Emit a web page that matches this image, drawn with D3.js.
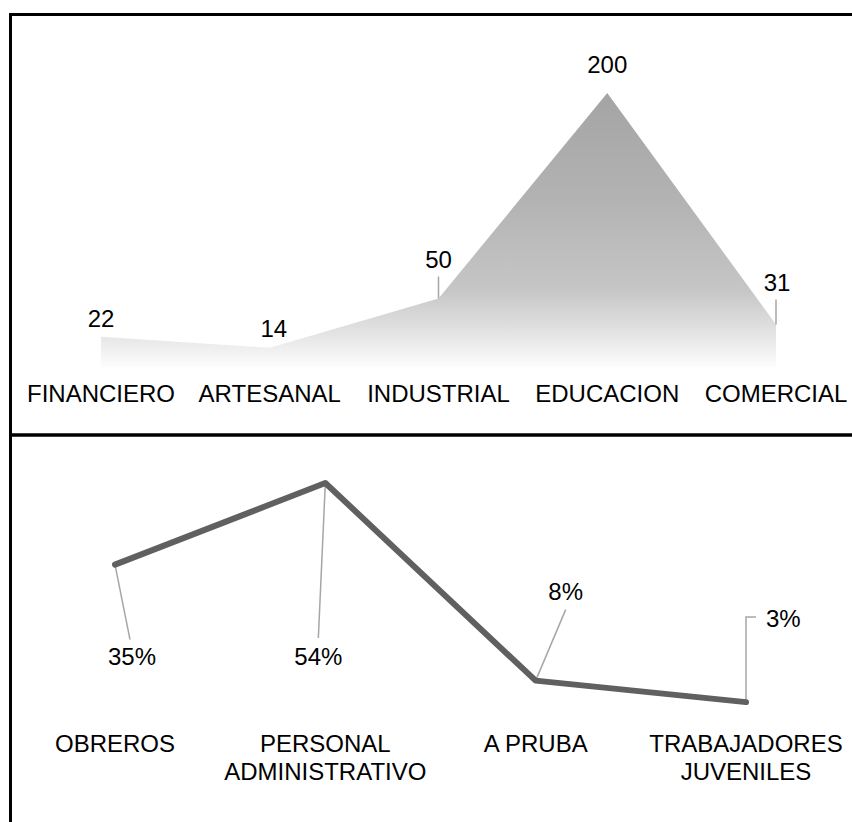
<!DOCTYPE html>
<html>
<head>
<meta charset="utf-8">
<script src="https://cdn.jsdelivr.net/npm/d3@7"></script>
<style>
  body { margin: 0; background: #fff; }
  text { font-family: "Liberation Sans", Arial, sans-serif; fill: #000; }
</style>
</head>
<body>
<svg id="chart" width="852" height="822"></svg>
<script>
// top panel data
const sectors = ["FINANCIERO", "ARTESANAL", "INDUSTRIAL", "EDUCACION", "COMERCIAL"];
const sectorCounts = [22, 14, 50, 200, 31];

// bottom panel data
const staffTypes = ["OBREROS", "PERSONAL ADMINISTRATIVO", "A PRUBA", "TRABAJADORES JUVENILES"];
const staffTypeLines = [["OBREROS"], ["PERSONAL", "ADMINISTRATIVO"], ["A PRUBA"], ["TRABAJADORES", "JUVENILES"]];
const staffShares = [35, 54, 8, 3];

// label placement (offset from the point to the label, and where the leader ends)
const topLabelPos = [
  { dx: 0, dy: -10 }, { dx: 4, dy: -11 }, { dx: 0, dy: -31, lead: -22 },
  { dx: 0, dy: -20 }, { dx: 1, dy: -34, lead: -25 }
];
const bottomLabelPos = [
  { dx: 17, dy: 100, lx: 15, ly: 75, anchor: "middle" },
  { dx: -7, dy: 182, lx: -7, ly: 155, anchor: "middle" },
  { dx: 30, dy: -81, lx: 30, ly: -71, anchor: "middle" },
  { dx: 20, dy: -75, elbow: true, ly: -85, lx: 10, anchor: "start" }
];

const fontSize = "24px";
const svg = d3.select("#chart");

// ---------- frame ----------
svg.append("path")
  .attr("d", "M852,14.5 H10.5 V822")
  .attr("fill", "none").attr("stroke", "#000").attr("stroke-width", 3);
svg.append("line")
  .attr("x1", 10).attr("x2", 852).attr("y1", 435).attr("y2", 435)
  .attr("stroke", "#000").attr("stroke-width", 3.5);

// ---------- top: area ----------
const x1 = d3.scalePoint().domain(sectors).range([101, 776]);
const y1 = d3.scaleLinear().domain([0, 200]).range([367, 93]);

const defs = svg.append("defs");
const grad = defs.append("linearGradient")
  .attr("id", "areaGrad")
  .attr("gradientUnits", "userSpaceOnUse")
  .attr("x1", 0).attr("x2", 0)
  .attr("y1", y1(200)).attr("y2", y1(0));
[[0, "#a4a4a4"], [0.4, "#b3b3b3"], [0.72, "#c6c6c6"], [0.88, "#e4e4e4"], [1, "#fdfdfd"]]
  .forEach(s => grad.append("stop").attr("offset", s[0]).attr("stop-color", s[1]));

const topData = sectors.map((s, i) => ({ cat: s, v: sectorCounts[i], pos: topLabelPos[i] }));

svg.append("path")
  .datum(topData)
  .attr("fill", "url(#areaGrad)")
  .attr("d", d3.area().x(d => x1(d.cat)).y0(y1(0)).y1(d => y1(d.v)));

svg.append("g").selectAll("line")
  .data(topData.filter(d => d.pos.lead))
  .join("line")
  .attr("x1", d => x1(d.cat)).attr("x2", d => x1(d.cat))
  .attr("y1", d => y1(d.v)).attr("y2", d => y1(d.v) + d.pos.lead)
  .attr("stroke", "#a6a6a6").attr("stroke-width", 1.5);

svg.append("g").selectAll("text")
  .data(topData)
  .join("text")
  .attr("x", d => x1(d.cat) + d.pos.dx)
  .attr("y", d => y1(d.v) + d.pos.dy)
  .attr("text-anchor", "middle")
  .style("font-size", fontSize)
  .text(d => d.v);

svg.append("g").selectAll("text")
  .data(sectors)
  .join("text")
  .attr("x", d => x1(d))
  .attr("y", 402)
  .attr("text-anchor", "middle")
  .style("font-size", fontSize)
  .text(d => d);

// ---------- bottom: line ----------
const x2 = d3.scalePoint().domain(staffTypes).range([115, 746]);
const y2 = d3.scaleLinear().domain([0, 54]).range([715, 483]);

const botData = staffTypes.map((s, i) => ({ cat: s, v: staffShares[i], pos: bottomLabelPos[i], lines: staffTypeLines[i] }));

svg.append("g").selectAll("path")
  .data(botData)
  .join("path")
  .attr("fill", "none")
  .attr("stroke", "#a6a6a6").attr("stroke-width", 1.5)
  .attr("d", d => {
    const px = x2(d.cat), py = y2(d.v), p = d.pos;
    if (p.elbow) return `M${px},${py} V${py + p.ly} H${px + p.lx}`;
    return `M${px},${py} L${px + p.lx},${py + p.ly}`;
  });

svg.append("path")
  .datum(botData)
  .attr("fill", "none")
  .attr("stroke", "#606060")
  .attr("stroke-width", 6)
  .attr("stroke-linejoin", "round")
  .attr("stroke-linecap", "round")
  .attr("d", d3.line().x(d => x2(d.cat)).y(d => y2(d.v)));

svg.append("g").selectAll("text")
  .data(botData)
  .join("text")
  .attr("x", d => x2(d.cat) + d.pos.dx)
  .attr("y", d => y2(d.v) + d.pos.dy)
  .attr("text-anchor", d => d.pos.anchor)
  .style("font-size", fontSize)
  .text(d => d.v + "%");

const catG = svg.append("g").selectAll("text")
  .data(botData)
  .join("text")
  .attr("text-anchor", "middle")
  .style("font-size", fontSize);
catG.selectAll("tspan")
  .data(d => d.lines.map((l, j) => ({ l, j, x: x2(d.cat) })))
  .join("tspan")
  .attr("x", t => t.x)
  .attr("y", t => 752 + t.j * 28)
  .text(t => t.l);
</script>
</body>
</html>
